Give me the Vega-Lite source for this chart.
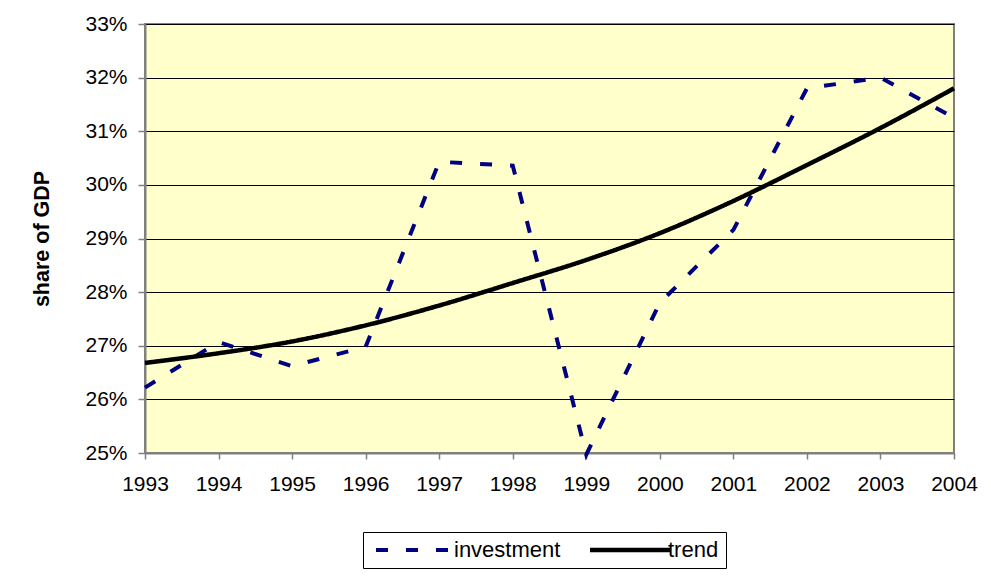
{
  "$schema": "https://vega.github.io/schema/vega-lite/v6.json",
  "autosize": "none",
  "width": 809,
  "height": 429,
  "padding": {"left": 145, "top": 24, "right": 37, "bottom": 125},
  "background": "#ffffff",
  "config": {
    "font": "Liberation Sans",
    "view": {"fill": "#FFFFCC", "stroke": "#808080", "strokeWidth": 2},
    "axis": {"labelFont": "Liberation Sans", "labelFontSize": 21, "labelColor": "#000000", "domainColor": "#808080", "domainWidth": 2, "tickColor": "#808080", "tickWidth": 1.5}
  },
  "data": {
    "values": [
      {"year": 1993, "series": "investment", "value": 26.22},
      {"year": 1994, "series": "investment", "value": 27.07},
      {"year": 1995, "series": "investment", "value": 26.62},
      {"year": 1996, "series": "investment", "value": 26.98},
      {"year": 1997, "series": "investment", "value": 30.43},
      {"year": 1998, "series": "investment", "value": 30.36},
      {"year": 1999, "series": "investment", "value": 24.97},
      {"year": 2000, "series": "investment", "value": 27.8},
      {"year": 2001, "series": "investment", "value": 29.16},
      {"year": 2002, "series": "investment", "value": 31.8},
      {"year": 2003, "series": "investment", "value": 32.0},
      {"year": 2004, "series": "investment", "value": 31.25},
      {"year": 1993, "series": "trend", "value": 26.68},
      {"year": 1994, "series": "trend", "value": 26.86},
      {"year": 1995, "series": "trend", "value": 27.08},
      {"year": 1996, "series": "trend", "value": 27.38},
      {"year": 1997, "series": "trend", "value": 27.75},
      {"year": 1998, "series": "trend", "value": 28.17},
      {"year": 1999, "series": "trend", "value": 28.6},
      {"year": 2000, "series": "trend", "value": 29.1},
      {"year": 2001, "series": "trend", "value": 29.7},
      {"year": 2002, "series": "trend", "value": 30.37},
      {"year": 2003, "series": "trend", "value": 31.06},
      {"year": 2004, "series": "trend", "value": 31.8}
    ]
  },
  "encoding": {
    "x": {
      "field": "year", "type": "quantitative",
      "scale": {"domain": [1993, 2004], "nice": false, "zero": false},
      "axis": {"title": null, "values": [1993,1994,1995,1996,1997,1998,1999,2000,2001,2002,2003,2004], "format": "d", "grid": false, "tickSize": 6, "labelPadding": 14, "labelFlush": false, "labelOverlap": false}
    },
    "y": {
      "field": "value", "type": "quantitative",
      "scale": {"domain": [25, 33], "nice": false, "zero": false},
      "axis": {"title": "share of GDP", "titleFont": "Liberation Sans", "titleFontSize": 21.5, "titleFontWeight": "bold", "titleColor": "#000000", "titlePadding": 31, "values": [25,26,27,28,29,30,31,32,33], "labelExpr": "datum.value + '%'", "grid": true, "gridColor": "#000000", "gridWidth": 1, "tickSize": 7, "labelPadding": 11}
    },
    "color": {
      "field": "series", "type": "nominal",
      "scale": {"domain": ["investment", "trend"], "range": ["#000080", "#000000"]},
      "legend": {
        "title": null, "orient": "none", "direction": "horizontal",
        "legendX": 218, "legendY": 508,
        "strokeColor": "#000000", "padding": 7,
        "symbolType": "M-1,0H15", "symbolSize": 100, "symbolStrokeWidth": 4,
        "labelFont": "Liberation Sans", "labelFontSize": 22, "labelColor": "#000000",
        "labelOffset": 62, "columnPadding": 20
      }
    },
    "strokeDash": {
      "field": "series", "type": "nominal",
      "scale": {"domain": ["investment", "trend"], "range": [[12, 18], [1, 0]]},
      "legend": null
    },
    "strokeWidth": {
      "field": "series", "type": "nominal",
      "scale": {"domain": ["investment", "trend"], "range": [4, 4.5]},
      "legend": null
    }
  },
  "layer": [
    {
      "transform": [{"filter": "datum.series === 'investment'"}],
      "mark": {"type": "line", "interpolate": "linear", "strokeCap": "butt", "clip": false}
    },
    {
      "transform": [{"filter": "datum.series === 'trend'"}],
      "mark": {"type": "line", "interpolate": "monotone", "strokeCap": "butt", "clip": false}
    }
  ]
}
